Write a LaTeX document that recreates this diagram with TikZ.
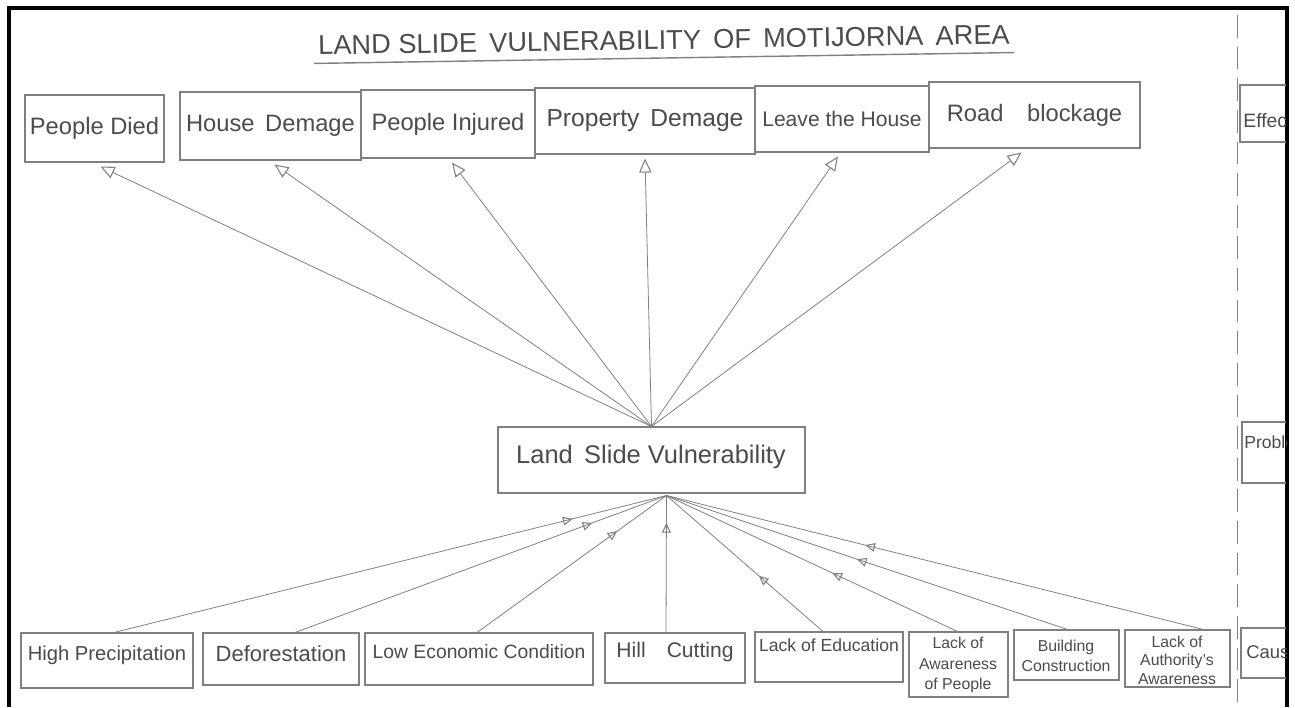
\documentclass[tikz,border=0pt]{standalone}
\usepackage{fontspec}
\setmainfont{Liberation Sans}
\usetikzlibrary{arrows.meta,calc,fit,decorations.markings}

\definecolor{pencil}{HTML}{808080}
\definecolor{ink}{HTML}{4C4C4C}

\begin{document}
\begin{tikzpicture}[x=0.02cm,y=-0.02cm,
  box/.style={draw=pencil, line width=0.6pt, inner sep=0pt},
  toplbl/.style={text=ink, inner sep=0pt, font=\fontsize{13.5}{16}\selectfont},
  botlbl/.style={text=ink, inner sep=0pt, font=\fontsize{11}{13}\selectfont},
  smalllbl/.style={text=ink, inner sep=0pt, align=center, font=\fontsize{9}{11.5}\selectfont},
  link/.style={draw=pencil, line width=0.45pt},
  toarrow/.style={link, -{Triangle[open, length=8pt, width=7pt, line width=0.6pt]}},
  midarrow/.style={link, postaction={decorate},
    decoration={markings, mark=at position #1 with
      {\arrow{Triangle[open, length=5.5pt, width=5pt, line width=0.6pt]}}}},
]
% page
\fill[white] (0,0) rectangle (1295,707);
\useasboundingbox (0,0) rectangle (1295,707);

% sheet frame
\draw[black, line width=1.8pt] (9,707) -- (9,8) -- (1287,8) -- (1287,707);

% heading
\node[text=ink, inner sep=0pt, rotate=0.9, font=\fontsize{15.5}{18}\selectfont]
  (title) at (664,40) {LAND SLIDE\, VULNERABILITY\, OF\, MOTIJORNA\, AREA};
\draw[pencil, line width=0.8pt] ($(title.south west)+(-4,8)$) -- ($(title.south east)+(4,8)$);

% effects (top row)
\node[box, fit={(25,95) (164,162)}] (died) {};
\node[toplbl] (diedT) at (died.center) {People Died};
\node[box, fit={(180,92) (361,160)}] (house) {};
\node[toplbl] (houseT) at (house.center) {House\, Demage};
\node[box, fit={(361,90) (535,158)}] (injured) {};
\node[toplbl] (injuredT) at (injured.center) {People Injured};
\node[box, fit={(535,88) (755,154)}] (property) {};
\node[toplbl, font=\fontsize{14}{16}\selectfont] (propertyT) at (property.center) {Property\, Demage};
\node[box, fit={(755,86) (929,152)}] (leave) {};
\node[toplbl, font=\fontsize{12}{14}\selectfont] (leaveT) at (leave.center) {Leave the House};
\node[box, fit={(929,82) (1140,148)}] (road) {};
\node[toplbl] (roadT) at (road.center) {Road\quad blockage};

% central node
\node[box, fit={(498,427) (805,493)}] (lsv) {};
\node[text=ink, inner sep=0pt, font=\fontsize{14.5}{17}\selectfont] (lsvT) at (651,457) {Land\, Slide Vulnerability};

% causes (bottom row)
\node[box, fit={(21,633) (193,688)}] (hp) {};
\node[botlbl, font=\fontsize{11.5}{13}\selectfont] (hpT) at (107,655) {High Precipitation};
\node[box, fit={(203,633) (359,685)}] (def) {};
\node[botlbl, font=\fontsize{12.5}{14}\selectfont] (defT) at (281,654) {Deforestation};
\node[box, fit={(365,633) (593,685)}] (low) {};
\node[botlbl] (lowT) at (479,652) {Low Economic Condition};
\node[box, fit={(605,633) (745,683)}] (hill) {};
\node[botlbl, font=\fontsize{12}{14}\selectfont] (hillT) at (675,652) {Hill\quad Cutting};
\node[box, fit={(755,632) (903,682)}] (edu) {};
\node[botlbl, font=\fontsize{10}{12}\selectfont] (eduT) at (829,645) {Lack of Education};
\node[box, fit={(909,632) (1008,697)}] (aware) {};
\node[smalllbl] (awareT) at (958,665) {Lack of\\Awareness\\of People};
\node[box, fit={(1014,630) (1119,680)}] (build) {};
\node[smalllbl] (buildT) at (1066,656) {Building\\Construction};
\node[box, fit={(1125,630) (1230,687)}] (auth) {};
\node[smalllbl, font=\fontsize{9}{10.5}\selectfont] (authT) at (1177,660) {Lack of\\Authority's\\Awareness};

% side column behind the dashed divider, cut by the frame
\draw[pencil, line width=0.5pt, dash pattern=on 13pt off 5pt] (1237,15) -- (1237,707);
\begin{scope}
  \clip (1230,0) rectangle (1286,707);
  \node[box, fit={(1240,85) (1330,142)}] (effect) {};
  \node[toplbl, anchor=west, font=\fontsize{11}{13}\selectfont] (effectT) at (1243,121) {Effect};
  \node[box, fit={(1242,422) (1330,483)}] (problem) {};
  \node[toplbl, anchor=west, font=\fontsize{10}{12}\selectfont] (problemT) at (1244,442) {Problem};
  \node[box, fit={(1241,628) (1330,678)}] (cause) {};
  \node[toplbl, anchor=west, font=\fontsize{10.5}{12}\selectfont] (causeT) at (1246,652) {Cause};
\end{scope}

% vulnerability -> effects
\draw[toarrow] (lsv.north) -- ($(died.south)+(6,4)$);
\draw[toarrow] (lsv.north) -- ($(house.south)+(4,4)$);
\draw[toarrow] (lsv.north) -- ($(injured.south)+(4,4)$);
\draw[toarrow] (lsv.north) -- ($(property.south)+(0,4)$);
\draw[toarrow] (lsv.north) -- ($(leave.south)+(-4,4)$);
\draw[toarrow] (lsv.north) -- ($(road.south)+(-13,4)$);

% causes -> vulnerability
\coordinate (hub) at ($(lsv.south)+(15,2)$);
\draw[midarrow=0.83] ($(hp.north)+(7,0)$) -- (hub);
\draw[midarrow=0.80] ($(def.north)+(14,0)$) -- (hub);
\draw[midarrow=0.74] ($(low.north)+(-2,0)$) -- (hub);
\draw[midarrow=0.80] ($(hill.north)+(-9,0)$) -- (hub);
\draw[midarrow=0.41] ($(edu.north)+(-6,0)$) -- (hub);
\draw[midarrow=0.43] ($(aware.north)+(-1,0)$) -- (hub);
\draw[midarrow=0.525] ($(build.north)+(1,0)$) -- (hub);
\draw[midarrow=0.63] ($(auth.north)+(26,0)$) -- (hub);
\end{tikzpicture}
\end{document}
